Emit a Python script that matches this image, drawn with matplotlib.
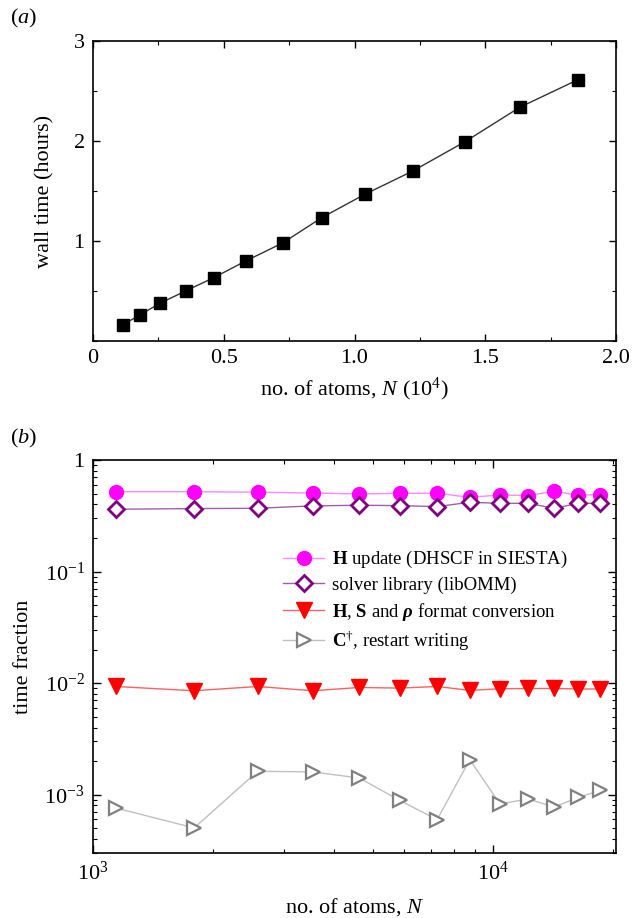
import matplotlib
matplotlib.use("Agg")
import matplotlib.pyplot as plt
from matplotlib.ticker import FixedLocator, FuncFormatter, LogLocator, NullFormatter, MultipleLocator

plt.rcParams['font.family'] = ['Liberation Serif', 'DejaVu Serif']
plt.rcParams['mathtext.fontset'] = 'custom'
plt.rcParams['mathtext.rm'] = 'Liberation Serif'
plt.rcParams['mathtext.it'] = 'Liberation Serif:italic'
plt.rcParams['mathtext.bf'] = 'Liberation Serif:bold'
try:
    plt.rcParams['mathtext.bfit'] = 'Liberation Serif:bold:italic'
    RHO = r'$\mathbfit{\rho}$'
except Exception:
    RHO = r'$\mathbf{\rho}$'

# ---- data ----
atoms = [1140, 1790, 2580, 3540, 4630, 5840, 7250, 8750, 10410, 12230, 14240, 16320, 18560]
atoms_1e4 = [a / 1e4 for a in atoms]
wall_time = [0.162, 0.26, 0.38, 0.50, 0.635, 0.80, 0.98, 1.234, 1.469, 1.70, 1.995, 2.337, 2.615]

h_update = [0.52, 0.52, 0.514, 0.506, 0.496, 0.503, 0.503, 0.463, 0.486, 0.48, 0.524, 0.483, 0.49]
solver = [0.362, 0.367, 0.369, 0.388, 0.393, 0.39, 0.382, 0.418, 0.409, 0.409, 0.369, 0.409, 0.409]
conversion = [0.00933, 0.00854, 0.00933, 0.00854, 0.00914, 0.00902, 0.00933, 0.00861, 0.0089, 0.00895, 0.00895, 0.00886, 0.00886]
restart = [7.6e-4, 5.03e-4, 1.62e-3, 1.60e-3, 1.41e-3, 8.9e-4, 5.97e-4, 2.06e-3, 8.25e-4, 9.15e-4, 7.75e-4, 9.46e-4, 1.09e-3]

labels = [r'$\mathbf{H}$ update (DHSCF in SIESTA)',
          'solver library (libOMM)',
          r'$\mathbf{H}$, $\mathbf{S}$ and ' + RHO + ' format conversion',
          r'$\mathbf{C}^{\dagger}$, restart writing']

W, H = 632, 918
fig = plt.figure(figsize=(W / 100, H / 100), dpi=100)

def ax_rect(l, r, t, b):
    return [l / W, 1 - b / H, (r - l) / W, (b - t) / H]

FS = 16
tick_kw = dict(direction='in', top=True, right=True, labelsize=FS, width=1.0)

# ---- panel (a) ----
axa = fig.add_axes(ax_rect(93, 616, 41, 341))
axa.plot(atoms_1e4, wall_time, '-', color='#333333', lw=1.0,
         marker='s', ms=9, mfc='black', mec='black')
axa.set_xlim(0, 2.0)
axa.set_ylim(0, 3)
axa.xaxis.set_major_locator(FixedLocator([0, 0.5, 1.0, 1.5, 2.0]))
axa.xaxis.set_major_formatter(FuncFormatter(lambda v, p: '0' if v == 0 else f'{v:.1f}'))
axa.xaxis.set_minor_locator(MultipleLocator(0.25))
axa.yaxis.set_major_locator(FixedLocator([1, 2, 3]))
axa.yaxis.set_major_formatter(FuncFormatter(lambda v, p: f'{v:.0f}'))
axa.yaxis.set_minor_locator(MultipleLocator(0.5))
axa.tick_params(which='major', length=5, pad=6, **tick_kw)
axa.tick_params(which='minor', length=3, direction='in', top=True, right=True, width=0.8)
axa.set_xlabel(r'no. of atoms, $N$ (10$^{4}$)', fontsize=FS, labelpad=5)
axa.set_ylabel('wall time (hours)', fontsize=FS, labelpad=14)
for s in axa.spines.values():
    s.set_linewidth(1.2)

# ---- panel (b) ----
axb = fig.add_axes(ax_rect(93, 616, 460, 853))
axb.set_xscale('log')
axb.set_yscale('log')
axb.plot(atoms, h_update, '-', color='#ff88ff', lw=1.0, marker='o', ms=10,
         mfc='#ff00ff', mec='#ff00ff', label=labels[0])
axb.plot(atoms, solver, '-', color='#a060a8', lw=1.0, marker='D', ms=8,
         mfc='white', mec='#800080', mew=2, label=labels[1])
axb.plot(atoms, conversion, '-', color='#ff6060', lw=1.0, marker='v', ms=11,
         mfc='#ff0000', mec='#ff0000', label=labels[2])
axb.plot(atoms, restart, '-', color='#c0c0c0', lw=1.0, marker='>', ms=10,
         mfc='white', mec='#808080', mew=1.6, label=labels[3])
axb.set_xlim(1000, 20300)
axb.set_ylim(3.0e-4, 1)

def logfmt(v, p):
    import math
    e = int(round(math.log10(v)))
    if e == 0:
        return '1'
    return r'$10^{%d}$' % e if e > 0 else r'$10^{-%d}$' % (-e)

axb.xaxis.set_major_locator(FixedLocator([1e3, 1e4]))
axb.xaxis.set_major_formatter(FuncFormatter(logfmt))
axb.xaxis.set_minor_locator(LogLocator(base=10, subs=range(2, 10)))
axb.xaxis.set_minor_formatter(NullFormatter())
axb.yaxis.set_major_locator(FixedLocator([1e-3, 1e-2, 1e-1, 1]))
axb.yaxis.set_major_formatter(FuncFormatter(logfmt))
axb.yaxis.set_minor_locator(LogLocator(base=10, subs=range(2, 10)))
axb.yaxis.set_minor_formatter(NullFormatter())
axb.tick_params(which='major', length=6, pad=6, **tick_kw)
axb.tick_params(which='minor', length=3, direction='in', top=True, right=True, width=0.8)
axb.set_xlabel(r'no. of atoms, $N$', fontsize=FS, labelpad=8)
axb.set_ylabel('time fraction', fontsize=FS, labelpad=8)
for s in axb.spines.values():
    s.set_linewidth(1.2)

axb.legend(loc='upper left', bbox_to_anchor=((283 - 93) / 523, (853 - 549) / 393),
           frameon=False, fontsize=13.5, handlelength=2.2, handletextpad=0.4,
           labelspacing=0.35, borderpad=0, borderaxespad=0)

fig.text(10 / W, 1 - 18 / H, r'($\mathit{a}$)', fontsize=FS, va='center', ha='left')
fig.text(10 / W, 1 - 438 / H, r'($\mathit{b}$)', fontsize=FS, va='center', ha='left')

fig.savefig('out.png', dpi=100)
